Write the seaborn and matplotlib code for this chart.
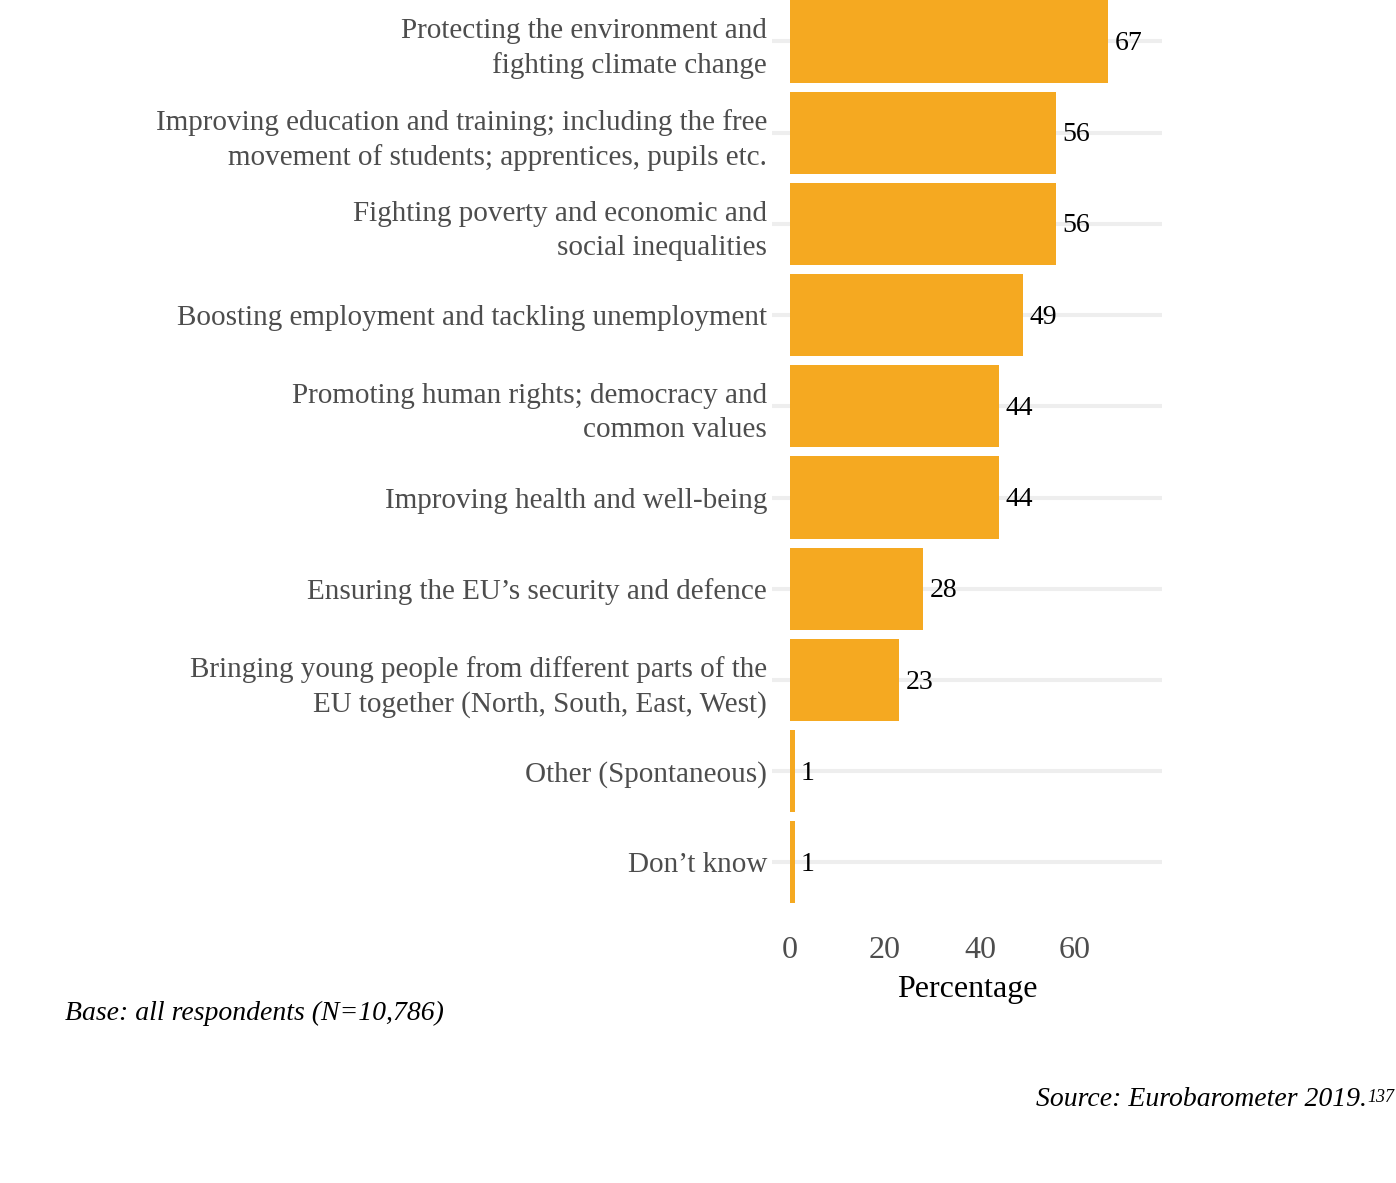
import matplotlib
matplotlib.use("Agg")
import matplotlib.pyplot as plt
import seaborn as sns
import pandas as pd

categories = [
    "Protecting the environment and\nfighting climate change",
    "Improving education and training; including the free\nmovement of students; apprentices, pupils etc.",
    "Fighting poverty and economic and\nsocial inequalities",
    "Boosting employment and tackling unemployment",
    "Promoting human rights; democracy and\ncommon values",
    "Improving health and well-being",
    "Ensuring the EU\u2019s security and defence",
    "Bringing young people from different parts of the\nEU together (North, South, East, West)",
    "Other (Spontaneous)",
    "Don\u2019t know",
]
values = [67, 56, 56, 49, 44, 44, 28, 23, 1, 1]
x_ticks = [0, 20, 40, 60]
x_label = "Percentage"
base_note = "Base: all respondents (N=10,786)"
source_note = "Source: Eurobarometer 2019."
source_sup = "137"

sns.set_theme(style="white")
plt.rcParams["font.family"] = ["Liberation Serif", "DejaVu Serif"]

df = pd.DataFrame({"cat": categories, "val": values})

fig = plt.figure(figsize=(13.96, 11.83), dpi=100)
ax = fig.add_axes([772 / 1396, 1 - 918 / 1183, 390 / 1396, 918 / 1183])

bar_color = "#F5A921"
sns.barplot(data=df, x="val", y="cat", color=bar_color, saturation=1,
            width=0.9, linewidth=0, ax=ax, zorder=2)

ax.set_xlim(-3.8, 78.3)
ax.set_ylim(9.61, -0.455)
ax.set_axisbelow(True)
ax.yaxis.grid(True, color="#EEEEEE", linewidth=2.9, zorder=0)
ax.xaxis.grid(False)
for s in ax.spines.values():
    s.set_visible(False)

ax.set_xticks(x_ticks)
ax.set_xticklabels([str(t) for t in x_ticks])
ax.tick_params(axis="x", length=0, pad=13, labelsize=23, labelcolor="#4D4D4D")
ax.tick_params(axis="y", length=0, pad=3.6, labelsize=21, labelcolor="#4D4D4D")
for lab in ax.get_yticklabels():
    lab.set_linespacing(1.38)
ax.set_ylabel("")
ax.set_xlabel(x_label, fontsize=23, color="black", labelpad=7)

for i, v in enumerate(values):
    ax.annotate(str(v), xy=(v, i), xytext=(4.5, -1.5), textcoords="offset points",
                va="center", ha="left", fontsize=20, color="black")

fig.text(65 / 1396, 1 - 1013 / 1183, base_note, fontsize=20, style="italic",
         ha="left", va="center", color="black")

sup = fig.text(1394 / 1396, 1 - 1097 / 1183, source_sup, fontsize=13,
               style="italic", ha="right", va="center", color="black")
ax.annotate(source_note, xy=(0, 0), xycoords=sup, xytext=(0, -5),
            textcoords="offset points", ha="right", va="bottom",
            fontsize=20, style="italic", color="black",
            annotation_clip=False)

fig.savefig("out.png", dpi=100)
